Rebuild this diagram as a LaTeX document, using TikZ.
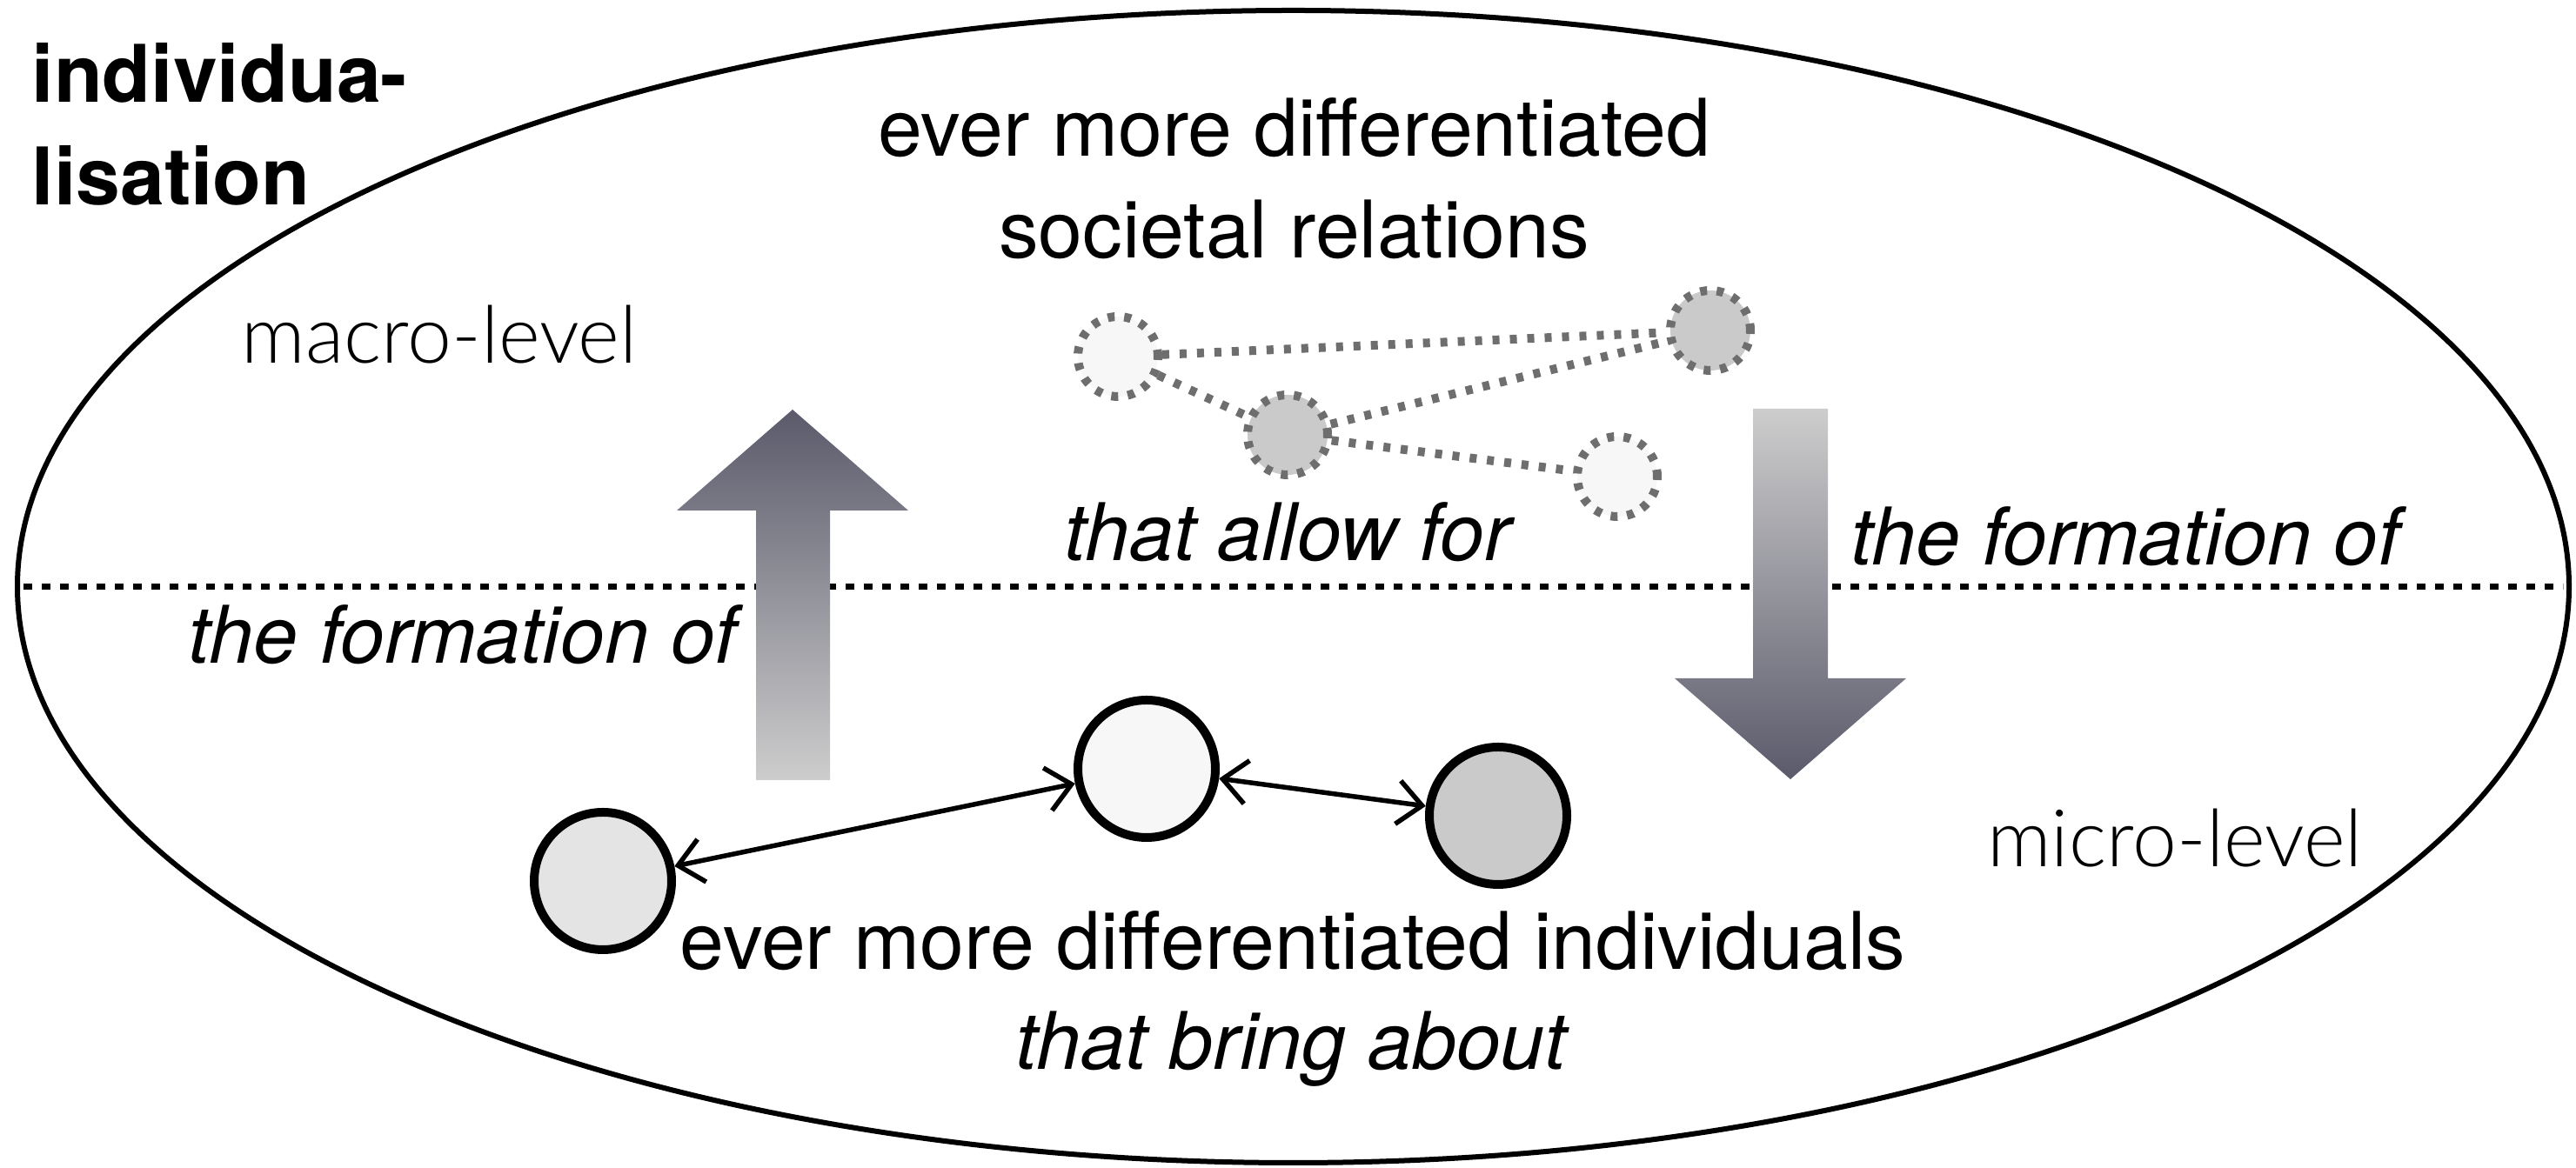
\documentclass[tikz,border=0pt]{standalone}
\usepackage{fontspec}
\setmainfont{TeX Gyre Heros}
\IfFontExistsTF{Lato Light}{\newfontfamily\thinfont{Lato Light}}{%
  \IfFontExistsTF{Lato Hairline}{\newfontfamily\thinfont{Lato Hairline}}{\newfontfamily\thinfont{Liberation Sans}}}
\usetikzlibrary{shapes.geometric,arrows.meta}
\definecolor{relgray}{HTML}{6E6E6E}
\definecolor{fillpale}{HTML}{F7F7F7}
\definecolor{filllight}{HTML}{E4E4E4}
\definecolor{filldark}{HTML}{CACACA}
\definecolor{flowdark}{HTML}{5A5A6B}
\definecolor{flowlight}{HTML}{CDCDCD}

\begin{document}
\begin{tikzpicture}
		[every node/.style={inner sep=0pt,font=\fontsize{26}{33.2}\selectfont},
		phrase/.style={font=\itshape\fontsize{26}{33}\selectfont},
		levelname/.style={font=\thinfont\fontsize{26}{31}\selectfont},
		indiv/.style={circle,draw,line width=1mm,minimum size=1.58cm},
		relation/.style={circle,draw=relgray,line width=1mm,dash pattern=on 0.8mm off 1.1mm,minimum size=0.92cm},
		link/.style={draw=relgray,line width=1mm,dash pattern=on 0.8mm off 1.2mm},
		exchange/.style={{Straight Barb[length=2.8mm,width=5mm]}-{Straight Barb[length=2.8mm,width=5mm]},line width=0.55mm},
		flowup/.style={top color=flowdark,bottom color=flowlight},
		flowdown/.style={top color=flowlight,bottom color=flowdark}]
		\useasboundingbox (0,0) rectangle (29.61,13.43);
		\node (society) [ellipse,draw,line width=0.6mm,minimum width=29.33cm,minimum height=13.25cm] at (14.865,6.685) {};
		\draw [line width=0.7mm,dash pattern=on 1mm off 1.1mm,shorten <=1mm,shorten >=1mm] (society.west) -- (society.east);
		\shade [flowup] (8.69,4.46) -- (8.69,7.56) -- (7.78,7.56) -- (9.11,8.72) -- (10.44,7.56) -- (9.54,7.56) -- (9.54,4.46) -- cycle;
		\shade [flowdown] (20.15,8.73) -- (20.15,5.63) -- (19.25,5.63) -- (20.58,4.47) -- (21.91,5.63) -- (21.01,5.63) -- (21.01,8.73) -- cycle;
		\node (title) [anchor=north west,align=left,font=\bfseries\fontsize{26}{33.5}\selectfont] at (0.36,12.94) {individua-\\lisation};
		\node (macro) [levelname,anchor=base] at (5.05,9.25) {macro-level};
		\node (micro) [levelname,anchor=base] at (25.00,3.46) {micro-level};
		\node (relations) [anchor=north,align=center] at (14.875,12.31) {ever more differentiated\\societal relations};
		\node (allow) [phrase,anchor=base] at (14.80,6.98) {that allow for};
		\node (formdown) [phrase,anchor=base] at (24.43,6.93) {the formation of};
		\node (formup) [phrase,anchor=base] at (5.32,5.80) {the formation of};
		\node (individuals) [anchor=north,align=center,font=\fontsize{26}{32.7}\selectfont] at (14.86,2.96) {ever more differentiated individuals\\\textit{that bring about}};
		\node (r1) [relation,fill=fillpale] at (12.85,9.33) {};
		\node (r2) [relation,fill=filldark] at (19.66,9.63) {};
		\node (r3) [relation,fill=filldark] at (14.80,8.43) {};
		\node (r4) [relation,fill=fillpale] at (18.59,7.95) {};
		\draw [link] (r1) -- (r2);
		\draw [link] (r1) -- (r3);
		\draw [link] (r3) -- (r2);
		\draw [link] (r3) -- (r4);
		\node (i1) [indiv,fill=filllight] at (6.93,3.30) {};
		\node (i2) [indiv,fill=fillpale] at (13.18,4.59) {};
		\node (i3) [indiv,fill=filldark] at (17.22,4.05) {};
		\draw [exchange] (i1) -- (i2);
		\draw [exchange] (i2) -- (i3);
	\end{tikzpicture}
\end{document}
